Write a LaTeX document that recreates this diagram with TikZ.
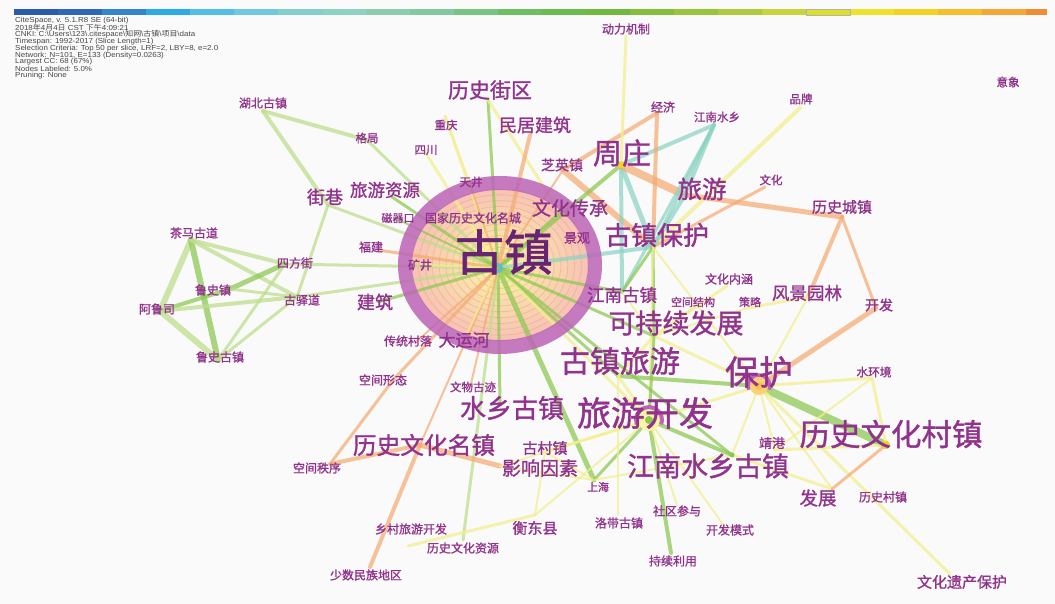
\documentclass[tikz,border=0pt]{standalone}
\usepackage{fontspec}
\setmainfont{Liberation Sans}
\newfontfamily\cjk{Noto Sans CJK SC}
\newfontfamily\cjkb[FakeBold=1.2]{Noto Sans CJK SC}
\definecolor{labc}{RGB}{145,50,140}
\definecolor{labd}{RGB}{105,35,115}
\definecolor{hdr}{RGB}{70,70,70}
\definecolor{eg}{RGB}{140,200,80}
\definecolor{elg}{RGB}{190,222,140}
\definecolor{ey}{RGB}{242,240,140}
\definecolor{eo}{RGB}{245,170,115}
\definecolor{et}{RGB}{140,212,195}
\definecolor{ringp}{RGB}{188,100,182}
\definecolor{cs}{RGB}{247,196,182}
\definecolor{cy}{RGB}{250,244,165}
\definecolor{cl}{RGB}{240,150,120}
\definecolor{b1}{RGB}{42,92,170}\definecolor{b2}{RGB}{46,104,182}\definecolor{b3}{RGB}{52,132,202}
\definecolor{b4}{RGB}{44,172,226}\definecolor{b5}{RGB}{84,190,230}\definecolor{b6}{RGB}{112,200,220}
\definecolor{b7}{RGB}{132,206,206}\definecolor{b8}{RGB}{142,210,196}\definecolor{b9}{RGB}{140,205,176}
\definecolor{b10}{RGB}{130,200,160}\definecolor{b11}{RGB}{120,196,130}\definecolor{b12}{RGB}{110,190,100}
\definecolor{b13}{RGB}{108,188,80}\definecolor{b14}{RGB}{112,185,62}\definecolor{b15}{RGB}{132,190,60}
\definecolor{b16}{RGB}{152,196,62}\definecolor{b17}{RGB}{176,202,64}\definecolor{b18}{RGB}{200,212,62}
\definecolor{b19}{RGB}{222,222,44}\definecolor{b20}{RGB}{240,226,44}\definecolor{b21}{RGB}{245,210,34}
\definecolor{b22}{RGB}{245,190,42}\definecolor{b23}{RGB}{245,166,52}\definecolor{b24}{RGB}{240,140,52}
\tikzset{
  kw/.style={text=labc,inner sep=0pt,font={\cjkb\fontsize{#1}{#1}\selectfont}},
  hd/.style={anchor=west,inner sep=0pt,text=hdr,xscale=1.09,transform shape,font={\fontsize{7.3}{7.3}\selectfont}},
  lnk/.style={draw opacity=.72,line cap=round}
}
\begin{document}
\begin{tikzpicture}[x=1pt,y=-1pt]
\useasboundingbox (0,0) rectangle (1055,604);
\fill[white!98!black] (0,0) rectangle (1055,604);
% colour bar
\foreach \i in {1,...,23}{
  \fill[b\i] ({14+(\i-1)*44},9.5) rectangle ({14+\i*44},15.5);
}
\fill[b24] (1026,9.5) rectangle (1047,15.5);
\draw[gray!60,line width=.4pt] (806,9.5) rectangle (850,15.5);
% header
\node[hd] (h1) at (15,20.7) {CiteSpace, v. 5.1.R8 SE (64-bit)};
\node[hd] (h2) at (15,27.6) {2018{\cjk 年}4{\cjk 月}4{\cjk 日} CST {\cjk 下午}4:09:21};
\node[hd] (h3) at (15,34.5) {CNKI: C:\textbackslash Users\textbackslash 123\textbackslash .citespace\textbackslash{\cjk 知网}\textbackslash{\cjk 古镇}\textbackslash{\cjk 项目}\textbackslash data};
\node[hd] (h4) at (15,41.4) {Timespan: 1992-2017 (Slice Length=1)};
\node[hd] (h5) at (15,48.3) {Selection Criteria: Top 50 per slice, LRF=2, LBY=8, e=2.0};
\node[hd] (h6) at (15,55.2) {Network: N=101, E=133 (Density=0.0263)};
\node[hd] (h7) at (15,62.1) {Largest CC: 68 (67\%)};
\node[hd] (h8) at (15,69.0) {Nodes Labeled: 5.0\%};
\node[hd] (h9) at (15,75.9) {Pruning: None};
% big node interior
\foreach \i in {0,...,12}{
  \pgfmathsetmacro\f{1-\i/13}
  \pgfmathsetmacro\p{\i*100/12}
  \fill[cy!\p!cs] (500,265) ellipse ({88*\f} and {76*\f});
  \draw[cl,opacity=.4,line width=.8pt] (500,265) ellipse ({88*\f} and {76*\f});
}
% hub coordinates
\coordinate (hubei) at (263,111);
\coordinate (geju) at (367,140);
\coordinate (chongqing) at (445,116);
\coordinate (sichuan) at (425,152);
\coordinate (lsjq) at (488,100);
\coordinate (mjjz) at (530,135);
\coordinate (jiexiang) at (328,205);
\coordinate (lyzy) at (392,197);
\coordinate (tianjing) at (470,184);
\coordinate (ciqikou) at (395,218);
\coordinate (whcc) at (560,212);
\coordinate (guzhen) at (498,268);
\coordinate (fujian) at (378,250);
\coordinate (kuangjing) at (425,265);
\coordinate (sifangjie) at (285,264);
\coordinate (chama) at (191,240);
\coordinate (lushizhen) at (230,289);
\coordinate (alusi) at (160,311);
\coordinate (guyidao) at (297,297);
\coordinate (lushiguzhen) at (218,360);
\coordinate (jianzhu) at (378,302);
\coordinate (ctcl) at (415,343);
\coordinate (dayunhe) at (463,342);
\coordinate (jngz) at (622,292);
\coordinate (zhiying) at (563,170);
\coordinate (zhouzhuang) at (621,165);
\coordinate (gzbh) at (653,247);
\coordinate (lvyou) at (685,195);
\coordinate (jingji) at (657,113);
\coordinate (jnsx) at (714,125);
\coordinate (pinpai) at (800,108);
\coordinate (dljz) at (626,36);
\coordinate (wenhua) at (765,187);
\coordinate (lscz) at (842,217);
\coordinate (whnh) at (727,286);
\coordinate (fjyl) at (808,297);
\coordinate (kaifa) at (876,308);
\coordinate (kjjg) at (693,308);
\coordinate (celue) at (748,308);
\coordinate (kcxfz) at (654,336);
\coordinate (gzly) at (618,376);
\coordinate (baohu) at (759,386);
\coordinate (shj) at (872,378);
\coordinate (lykf) at (649,420);
\coordinate (lswhcz) at (886,445);
\coordinate (jinggang) at (775,450);
\coordinate (jnsxgz) at (732,455);
\coordinate (fazhan) at (832,489);
\coordinate (lscz2) at (875,497);
\coordinate (sqcy) at (677,505);
\coordinate (kfms) at (724,526);
\coordinate (cxly) at (671,553);
\coordinate (whyc) at (950,574);
\coordinate (ldgz) at (618,515);
\coordinate (kjxt) at (393,380);
\coordinate (wwgj) at (470,388);
\coordinate (sxgz) at (500,405);
\coordinate (lswhmz) at (420,445);
\coordinate (gcz) at (545,452);
\coordinate (yxys) at (500,466);
\coordinate (shanghai) at (594,480);
\coordinate (kjzx) at (330,464);
\coordinate (hdx) at (535,515);
\coordinate (xclykf) at (408,546);
\coordinate (lswhzy) at (463,540);
\coordinate (ssmz) at (370,567);
% links
\foreach \a/\b/\c/\w in {
 chama/alusi/elg/6, chama/lushiguzhen/eg/6, chama/sifangjie/elg/4, chama/guyidao/elg/4,
 lushizhen/sifangjie/eg/5, lushizhen/alusi/eg/4, lushizhen/guyidao/elg/3,
 alusi/guyidao/elg/4, alusi/lushiguzhen/elg/6, lushiguzhen/sifangjie/elg/3, lushiguzhen/guyidao/elg/3,
 sifangjie/guzhen/elg/3, guyidao/guzhen/elg/3, jiexiang/guyidao/elg/3,
 hubei/jiexiang/elg/4, hubei/geju/elg/4, geju/guzhen/elg/3, jiexiang/guzhen/elg/3,
 lyzy/guzhen/eg/3, ciqikou/guzhen/eg/2, fujian/guzhen/eo/3, kuangjing/guzhen/ey/2,
 jianzhu/guzhen/eg/3, chongqing/guzhen/ey/3, chongqing/tianjing/ey/2, sichuan/guzhen/ey/3,
 lsjq/guzhen/eg/3, lsjq/whcc/ey/3, mjjz/guzhen/eo/4, zhiying/guzhen/eo/2,
 zhiying/jingji/eo/4, zhiying/gzbh/eo/6, zhouzhuang/guzhen/eg/4, zhouzhuang/gzbh/et/5,
 zhouzhuang/jngz/et/4, zhouzhuang/lvyou/eo/8, zhouzhuang/jnsx/et/4, zhouzhuang/dljz/ey/3,
 jingji/gzbh/eo/4, jnsx/gzbh/et/4, jnsx/lvyou/et/4, jnsx/jngz/et/3, pinpai/gzbh/ey/4,
 wenhua/gzbh/eo/3, lvyou/lscz/eo/5, lvyou/gzbh/et/4, lscz/fjyl/eo/4, lscz/kaifa/eo/3,
 kaifa/baohu/eo/5, fjyl/celue/ey/3, fjyl/baohu/ey/2, whnh/kcxfz/ey/3, kjjg/kcxfz/ey/2,
 celue/kcxfz/ey/2, gzbh/guzhen/et/4, gzbh/kcxfz/eg/3, gzbh/jngz/eg/3, gzbh/lykf/ey/2,
 gzbh/baohu/ey/2, jngz/guzhen/eg/3, jngz/kcxfz/ey/2, guzhen/kcxfz/eg/3, guzhen/gzly/eg/3,
 guzhen/lykf/ey/3, guzhen/jnsxgz/eg/3, guzhen/shanghai/eg/5, guzhen/sxgz/eg/3,
 guzhen/lswhzy/elg/3, guzhen/wwgj/eo/2, guzhen/lswhmz/eo/2, guzhen/kjxt/eo/3, kjxt/kjzx/eo/3,
 ctcl/guzhen/eo/2, dayunhe/guzhen/ey/2, whcc/guzhen/eg/2, tianjing/guzhen/eo/2,
 lswhmz/kjzx/eo/4, lswhmz/ssmz/eo/4, lswhmz/yxys/eo/5, gcz/lykf/ey/3, gcz/shanghai/ey/2,
 yxys/shanghai/ey/2, yxys/lykf/ey/2, hdx/gcz/ey/2, hdx/lykf/ey/2, xclykf/hdx/ey/3,
 shanghai/lykf/eg/3, shanghai/jnsxgz/ey/2, ldgz/gzly/ey/2, gzly/baohu/eg/4, gzly/lykf/ey/3,
 gzly/kcxfz/ey/3, kcxfz/baohu/ey/3, kcxfz/lykf/eg/3, lykf/baohu/ey/3, lykf/jnsxgz/eg/4,
 lykf/cxly/eg/4, lykf/kfms/ey/2, lykf/sqcy/ey/2, baohu/lswhcz/eg/8, baohu/shj/ey/3,
 baohu/jinggang/ey/2, baohu/fazhan/ey/2, baohu/jnsxgz/ey/2, baohu/whyc/ey/3,
 shj/lswhcz/ey/3, shj/jinggang/ey/2, jinggang/lswhcz/ey/3, jnsxgz/fazhan/ey/3, lswhcz/fazhan/eo/3}{
  \draw[lnk,draw=\c,line width=\w pt] (\a) -- (\b);
}
% ring of the big node
\draw[ringp,opacity=.85,line width=14pt] (500,265) ellipse (95 and 82);
\fill[cyan!60!teal!70] (guzhen) circle (5);
\fill[eg] (guzhen) circle (2);
% small rings
\fill[cy] (lykf) circle (11);
\fill[eg] (lykf) circle (4);
\draw[ringp,line width=4pt] (lykf) ++(160:13) arc (160:380:13);
\fill[cy!70!orange] (baohu) circle (9);
\fill[ey!60!orange] (baohu) circle (4);
\draw[ringp,line width=3.5pt] (baohu) ++(160:11) arc (160:380:11);
\fill[b21] (zhouzhuang) circle (3.5);
\fill[eg] (jnsxgz) circle (2.5);
\fill[b21] (lswhcz) circle (4);
\fill[eo] (lswhmz) circle (2.5);
% labels
\node[kw=12] (n-hubei) at (263,103) {湖北古镇};
\node[kw=11.5] (n-geju) at (367,138) {格局};
\node[kw=11.5] (n-cq) at (446,125) {重庆};
\node[kw=11.5] (n-sc) at (426,150) {四川};
\node[kw=21] (n-lsjq) at (490,90) {历史街区};
\node[kw=18] (n-mjjz) at (535,125) {民居建筑};
\node[kw=18] (n-jx) at (325,197) {街巷};
\node[kw=17.5] (n-lyzy) at (385,190) {旅游资源};
\node[kw=11.5] (n-tj) at (471,182) {天井};
\node[kw=11] (n-cqk) at (398,218) {磁器口};
\node[kw=12] (n-gjls) at (473,218) {国家历史文化名城};
\node[kw=19] (n-whcc) at (570,208) {文化传承};
\node[kw=13] (n-jg) at (577,238) {景观};
\node[kw=49,text=labd] (n-gz) at (504,252) {古镇};
\node[kw=12] (n-fj) at (371,247) {福建};
\node[kw=12] (n-kj) at (420,265) {矿井};
\node[kw=12] (n-sfj) at (295,263) {四方街};
\node[kw=12] (n-cm) at (194,233) {茶马古道};
\node[kw=12] (n-lsz) at (213,290) {鲁史镇};
\node[kw=12] (n-als) at (157,309) {阿鲁司};
\node[kw=12] (n-gyd) at (302,300) {古驿道};
\node[kw=12] (n-lsgz) at (220,357) {鲁史古镇};
\node[kw=18] (n-jz) at (375,302) {建筑};
\node[kw=12] (n-ctcl) at (408,341) {传统村落};
\node[kw=17] (n-dyh) at (464,340) {大运河};
\node[kw=17.5] (n-jngz) at (622,295) {江南古镇};
\node[kw=14] (n-zyz) at (562,165) {芝英镇};
\node[kw=29] (n-zz) at (622,153) {周庄};
\node[kw=26] (n-gzbh) at (657,235) {古镇保护};
\node[kw=24.5] (n-ly) at (702,189) {旅游};
\node[kw=12] (n-jj) at (663,107) {经济};
\node[kw=11.5] (n-jnsx) at (717,117) {江南水乡};
\node[kw=11.5] (n-pp) at (801,99) {品牌};
\node[kw=11.5] (n-yx) at (1008,82) {意象};
\node[kw=12] (n-dljz) at (626,29) {动力机制};
\node[kw=11.5] (n-wh) at (771,180) {文化};
\node[kw=15] (n-lscz) at (842,207) {历史城镇};
\node[kw=12] (n-whnh) at (729,279) {文化内涵};
\node[kw=17.5] (n-fjyl) at (807,293) {风景园林};
\node[kw=14] (n-kf) at (879,305) {开发};
\node[kw=11] (n-kjjg) at (693,302) {空间结构};
\node[kw=11] (n-cl) at (750,302) {策略};
\node[kw=27] (n-kcxfz) at (676,323) {可持续发展};
\node[kw=30] (n-gzly) at (620,361) {古镇旅游};
\node[kw=34] (n-bh) at (759,372) {保护};
\node[kw=11.7] (n-shj) at (874,372) {水环境};
\node[kw=34] (n-lykf) at (645,413) {旅游开发};
\node[kw=30.5] (n-lswhcz) at (891,434) {历史文化村镇};
\node[kw=13] (n-jgg) at (772,443) {靖港};
\node[kw=27] (n-jnsxgz) at (708,466) {江南水乡古镇};
\node[kw=18.5] (n-fz) at (818,498) {发展};
\node[kw=12] (n-lscz2) at (883,497) {历史村镇};
\node[kw=12] (n-sqcy) at (677,511) {社区参与};
\node[kw=12] (n-kfms) at (730,530) {开发模式};
\node[kw=12] (n-cxly) at (673,561) {持续利用};
\node[kw=15] (n-whyc) at (962,582) {文化遗产保护};
\node[kw=12] (n-ldgz) at (619,523) {洛带古镇};
\node[kw=12] (n-kjxt) at (383,380) {空间形态};
\node[kw=11.5] (n-wwgj) at (473,387) {文物古迹};
\node[kw=26] (n-sxgz) at (512,408) {水乡古镇};
\node[kw=23.7] (n-lswhmz) at (424,445) {历史文化名镇};
\node[kw=15] (n-gcz) at (545,448) {古村镇};
\node[kw=19] (n-yxys) at (540,468) {影响因素};
\node[kw=11] (n-sh) at (598,487) {上海};
\node[kw=12] (n-kjzx) at (317,468) {空间秩序};
\node[kw=15] (n-hdx) at (535,528) {衡东县};
\node[kw=12] (n-xclykf) at (411,529) {乡村旅游开发};
\node[kw=12] (n-lswhzy) at (463,548) {历史文化资源};
\node[kw=12] (n-ssmz) at (366,575) {少数民族地区};
\end{tikzpicture}
\end{document}
